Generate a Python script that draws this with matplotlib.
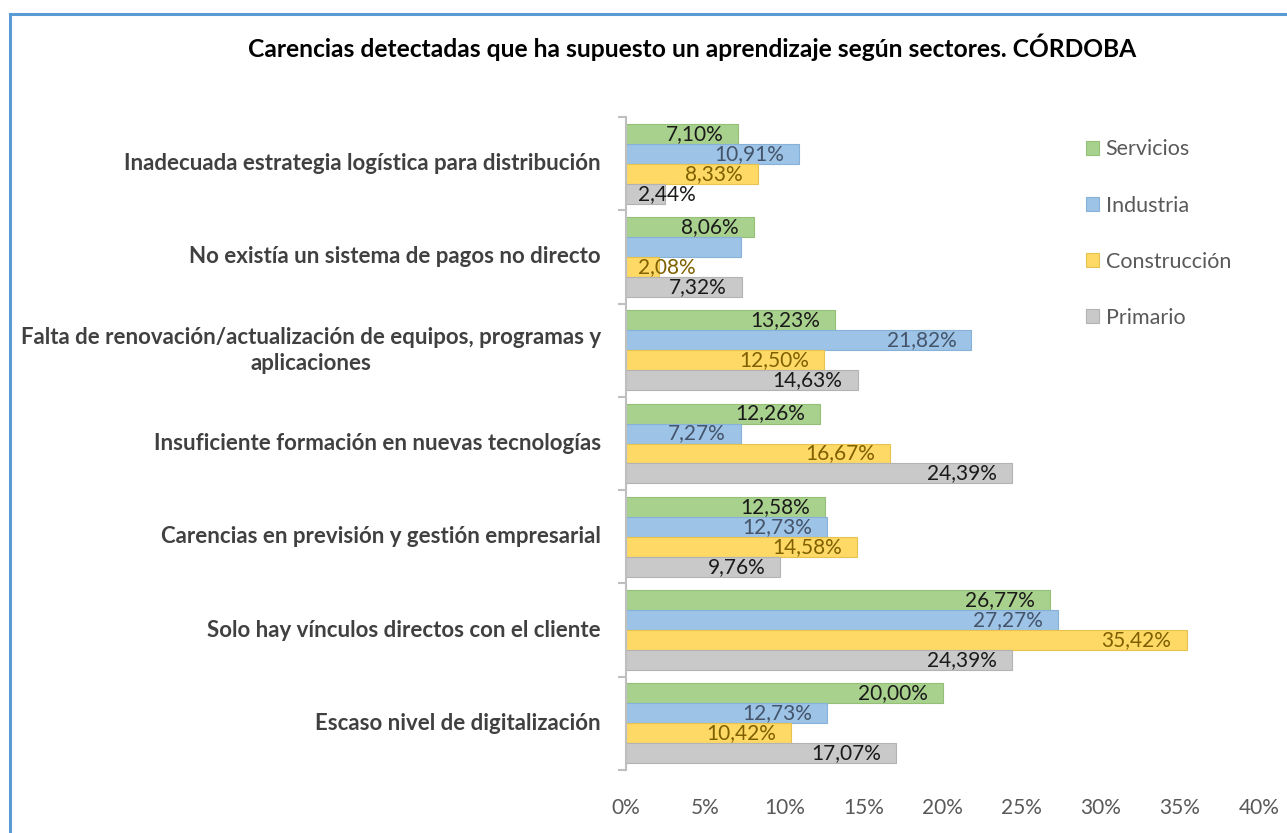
import matplotlib
matplotlib.use("Agg")
import matplotlib.pyplot as plt
from matplotlib.lines import Line2D
from matplotlib.patches import Patch
import numpy as np

plt.rcParams['font.family'] = ['Lato', 'DejaVu Sans']

title = "Carencias detectadas que ha supuesto un aprendizaje según sectores. CÓRDOBA"

categories = [
    "Inadecuada estrategia logística para distribución",
    "No existía un sistema de pagos no directo",
    "Falta de renovación/actualización de equipos, programas y\naplicaciones",
    "Insuficiente formación en nuevas tecnologías",
    "Carencias en previsión y gestión empresarial",
    "Solo hay vínculos directos con el cliente",
    "Escaso nivel de digitalización",
]

series_names = ["Servicios", "Industria", "Construcción", "Primario"]

servicios = [7.10, 8.06, 13.23, 12.26, 12.58, 26.77, 20.00]
industria = [10.91, 7.27, 21.82, 7.27, 12.73, 27.27, 12.73]
construccion = [8.33, 2.08, 12.50, 16.67, 14.58, 35.42, 10.42]
primario = [2.44, 7.32, 14.63, 24.39, 9.76, 24.39, 17.07]

# bars whose value label is not shown: (category index, series index)
unlabeled = [(1, 1)]

x_ticks = [0, 5, 10, 15, 20, 25, 30, 35, 40]

series_values = [servicios, industria, construccion, primario]
fill_colors = ["#A9D18E", "#9DC3E6", "#FFD966", "#C9C9C9"]
edge_colors = ["#93BF76", "#86B1D9", "#E8C24E", "#B3B3B3"]
label_colors = ["#1A1A1A", "#44546A", "#7F6000", "#1A1A1A"]

W, H = 1287, 833
fig = plt.figure(figsize=(W / 100, H / 100), dpi=100)
fig.patch.set_facecolor("white")

ax = fig.add_axes([626 / W, 1 - 770 / H, (1259 - 626) / W, (770 - 117) / H])

n_cat = len(categories)
n_ser = len(series_names)
bar_h = 1 / (n_ser + 0.67)
group_h = bar_h * n_ser
y_base = np.arange(n_cat)

px_per_pt = 100 / 72

for s, (name, vals) in enumerate(zip(series_names, series_values)):
    ypos = y_base - group_h / 2 + bar_h * (s + 0.5)
    ax.barh(ypos, vals, height=bar_h, color=fill_colors[s],
            edgecolor=edge_colors[s], linewidth=0.8, label=name, zorder=2)
    for c, (y, v) in enumerate(zip(ypos, vals)):
        if (c, s) in unlabeled:
            continue
        txt = f"{v:.2f}".replace(".", ",") + "%"
        if v < 4:
            ax.annotate(txt, xy=(0, y), xytext=(12 / px_per_pt, 0),
                        textcoords="offset points", ha="left", va="center",
                        fontsize=15, color=label_colors[s], zorder=3)
        else:
            ax.annotate(txt, xy=(v, y), xytext=(-15 / px_per_pt, 0),
                        textcoords="offset points", ha="right", va="center",
                        fontsize=15, color=label_colors[s], zorder=3)

ax.set_xlim(0, 40)
ax.set_ylim(n_cat - 0.5, -0.5)
ax.set_xticks(x_ticks)
ax.set_xticklabels([f"{t}%" for t in x_ticks], fontsize=15, color="#595959")
ax.tick_params(axis="x", length=0, pad=20)

# category boundaries as ticks on the left spine
ax.set_yticks(np.arange(n_cat + 1) - 0.5)
ax.set_yticklabels([])
ax.tick_params(axis="y", length=6, width=1.5, color="#BFBFBF", direction="out")
for c, name in enumerate(categories):
    ax.annotate(name, xy=(0, c), xytext=(-25 / px_per_pt, 0),
                textcoords="offset points", ha="right", va="center",
                multialignment="center", fontsize=16, fontweight="bold",
                color="#404040", linespacing=1.3)

for side in ["top", "right", "bottom"]:
    ax.spines[side].set_visible(False)
ax.spines["left"].set_color("#BFBFBF")
ax.spines["left"].set_linewidth(1.5)

handles = [Patch(facecolor=fill_colors[i], edgecolor=edge_colors[i], linewidth=0.8)
           for i in range(n_ser)]
leg = fig.legend(handles, series_names, loc="upper left",
                 bbox_to_anchor=(1067 / W, 1 - 120 / H), frameon=False,
                 fontsize=15.5, labelcolor="#595959", handlelength=0.6,
                 handleheight=0.6, handletextpad=0.3, labelspacing=1.68)

fig.text(692 / W, 1 - 47 / H, title, ha="center", va="center",
         fontsize=17.7, fontweight="bold", color="#000000")

# chart frame
bx, by = 10 / W, 1 - 14 / H
fig.add_artist(Line2D([bx, 1], [by, by], transform=fig.transFigure,
                      color="#5B9BD5", linewidth=2.2))
fig.add_artist(Line2D([bx, bx], [0, by], transform=fig.transFigure,
                      color="#5B9BD5", linewidth=2.2))

fig.savefig("out.png", dpi=100, facecolor="white")
